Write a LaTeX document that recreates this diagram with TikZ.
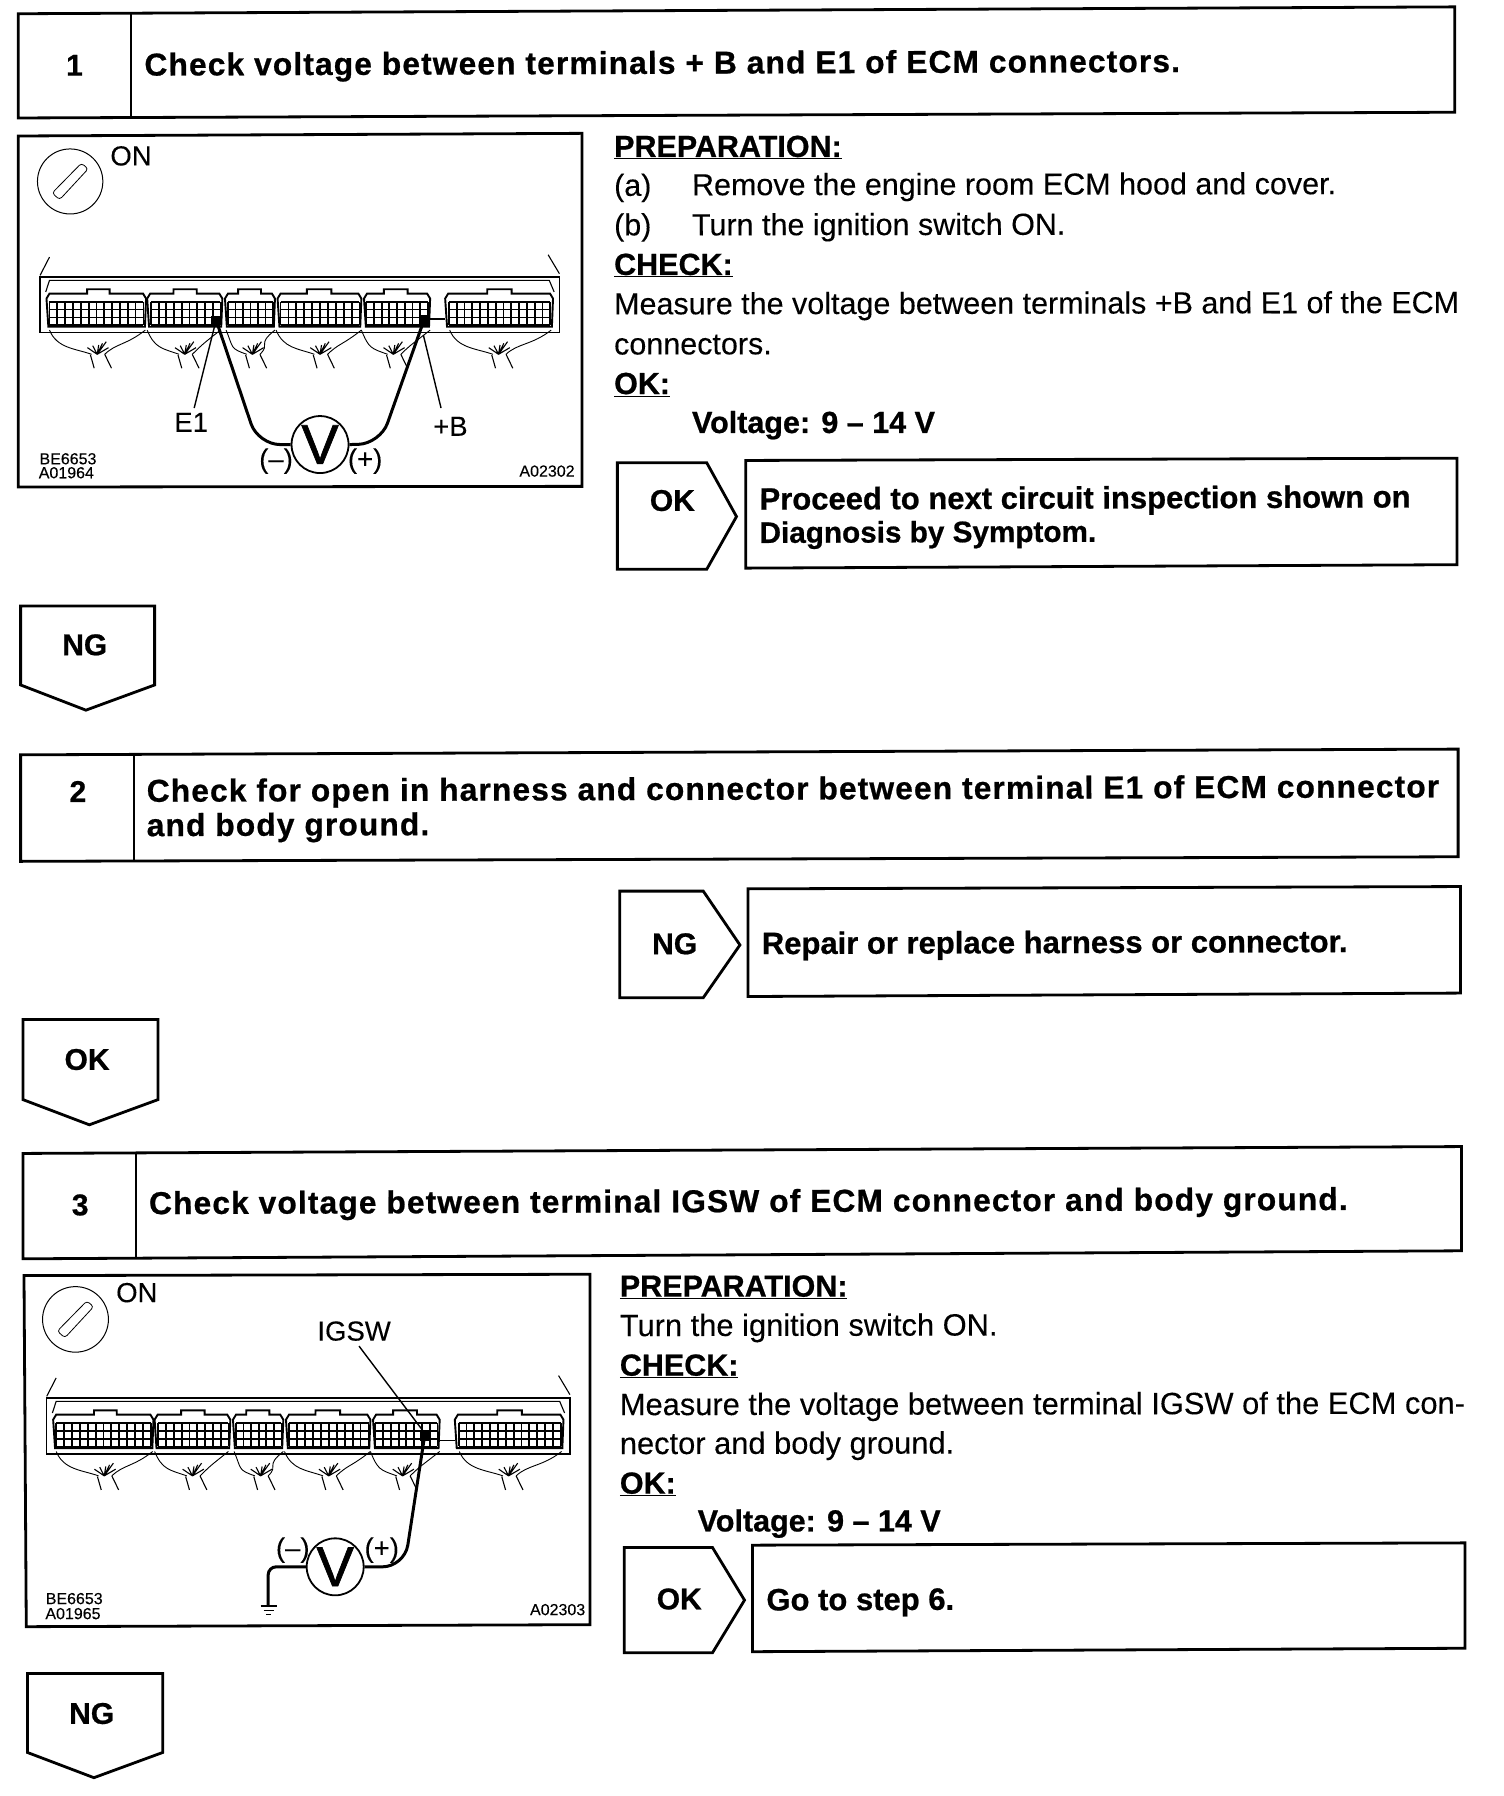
\documentclass[tikz,border=0pt]{standalone}
\usepackage{fontspec}
\setmainfont[FakeBold=0.15,BoldFeatures={FakeBold=0.7}]{Liberation Sans}
\newcommand{\fs}[1]{\fontsize{#1}{#1}\selectfont}
\tikzset{
  x=1.1455pt,y=-1.1455pt,
  frame/.style={line width=2.8pt,line join=miter},
  titl/.style={anchor=base west,inner sep=0,font=\fs{31.7}\bfseries\addfontfeature{LetterSpace=3.6},rotate=.2},
  resl/.style={anchor=base west,inner sep=0,font=\fs{31}\bfseries,rotate=.2},
  num/.style={inner sep=0,font=\fs{30}\bfseries},
  body/.style={anchor=base west,inner sep=0,font=\fs{30.5},rotate=.1},
  bodyb/.style={anchor=base west,inner sep=0,font=\fs{30.85},rotate=.1},
  head/.style={anchor=base west,inner sep=0,font=\fs{30.5}\bfseries},
  plab/.style={inner sep=0,font=\fs{27.5}},
  code/.style={inner sep=0,font=\fs{16}},
  wire/.style={line width=.9pt},
  gridl/.style={line width=1.8pt},
  probe/.style={line width=3pt,rounded corners=22pt},
  leader/.style={line width=1.4pt},
  meter/.style={draw,circle,line width=1.8pt,minimum size=57pt,inner sep=0,font=\fs{56}\addfontfeature{FakeBold=1.2}},
}
% connector block
\newcommand{\conn}[7]{%
  \draw[line width=1.9pt,fill=white] (#1+5,605)--(#1,520)--(#1+8,505)--(#6,505)--(#6,492)--(#7,492)--(#7,505)--(#2-8,505)--(#2,520)--(#2-3,605)--cycle;
  \foreach \r in {530,553,577,600}{\draw[gridl] (#3,\r)--(#4,\r);}
  \foreach \i in {0,...,#5}{\pgfmathsetmacro\xx{#3+\i*(#4-#3)/#5}\draw[gridl] (\xx,530)--(\xx,600);}
}
\newcommand{\hrn}[3]{%
  \draw[wire] (#1,615) .. controls (#1+20,670) and (#3-60,670) .. (#3-15,688);
  \draw[wire] (#2,615) .. controls (#2-50,660) and (#3+50,655) .. (#3+20,688);
  \draw[wire,line width=1.1pt] (#3-18,690)--(#3-8,730) (#3+20,688)--(#3+38,730)
    (#3,688)--(#3+24,650) (#3,688)--(#3+14,655) (#3,688)--(#3+4,660) (#3,688)--(#3-26,668) (#3,688)--(#3-12,662) (#3,688)--(#3+30,668);
}
\newcommand{\ecmstrip}{%
  \draw[line width=1.1pt] (80,450)--(105,395) (1462,445)--(1432,388);
  \draw[line width=1.5pt] (80,455) rectangle (1462,622);
  \draw[line width=1.1pt] (95,500)--(105,465)--(1435,465)--(1448,500);
  \hrn{105}{360}{232}\hrn{365}{560}{465}\hrn{575}{705}{645}\hrn{708}{935}{825}\hrn{935}{1118}{1020}\hrn{1170}{1440}{1300}
  \conn{97}{362}{105}{355}{12}{205}{265}
  \conn{365}{565}{375}{560}{9}{435}{497}
  \conn{572}{705}{580}{700}{6}{607}{668}
  \conn{712}{935}{720}{930}{10}{790}{855}
  \conn{942}{1118}{948}{1112}{8}{995}{1058}
  \conn{1158}{1445}{1168}{1438}{13}{1270}{1335}
  \draw[line width=1.5pt] (1118,582)--(1158,582);
}
\newcommand{\keysw}[2]{%
  \draw[line width=1pt] (#1,#2) ellipse [x radius=87,y radius=98];
  \draw[line width=.8pt,rounded corners=3pt] (#1-48,#2+35)--(#1+30,#2-55)--(#1+48,#2-38)--(#1-28,#2+55)--cycle;
}
\begin{document}
\begin{tikzpicture}
\useasboundingbox (0,0) rectangle (1313,1568);
\fill[white] (0,0) rectangle (1313,1568);

% ---------- step 1
\draw[frame] (16,12)--(1270,6)--(1270,98)--(16,103)--cycle;
\draw[line width=2pt] (114,11)--(114,103);
\node[num] (n1) at (65,57) {1};
\node[titl] (t1) at (126,66) {Check voltage between terminals + B and E1 of ECM connectors.};

\begin{scope}[x=.3758pt,y=-.3318pt,shift={(10.03pt,-126.05pt)}]
  \draw[frame] (22,30)--(1522,22)--(1522,1086)--(22,1088)--cycle;
  \keysw{160}{167}
  \node[plab] (on1) at (322,90) {ON};
  \ecmstrip
  \fill (535,572) rectangle (565,600);
  \fill (1088,570) rectangle (1118,598);
  \node[meter] (v1) at (825,960) {V};
  \draw[leader] (545,600)--(490,850);
  \draw[leader] (1100,630)--(1147,850);
  \draw[probe] (550,590)--(660,960)--(v1.west);
  \draw[probe] (1100,590)--(985,958)--(v1.east);
  \node[plab] (e1) at (482,893) {E1};
  \node[plab] (pb) at (1172,905) {+B};
  \node[plab] (m1) at (708,1010) {(–)};
  \node[plab] (p1) at (945,1010) {(+)};
  \node[code,anchor=west] (c1a) at (78,1003) {BE6653};
  \node[code,anchor=west] (c1b) at (76,1045) {A01964};
  \node[code,anchor=east] (c1c) at (1503,1040) {A02302};
\end{scope}

\node[head] (h1) at (536,137) {\underline{PREPARATION:}};
\node[body] (a1) at (536,171) {(a)};
\node[body] (a2) at (604,170.5) {Remove the engine room ECM hood and cover.};
\node[body] (b1) at (536,205.5) {(b)};
\node[body] (b2) at (604,205.5) {Turn the ignition switch ON.};
\node[head] (h2) at (536,240) {\underline{CHECK:}};
\node[body] (m1a) at (536,274.5) {Measure the voltage between terminals +B and E1 of the ECM};
\node[body] (m1b) at (536,309.5) {connectors.};
\node[head] (h3) at (536,344) {\underline{OK:}};
\node[head] (v1t) at (604,378) {Voltage: 9 – 14 V};

\draw[frame] (539,404)--(617,404)--(643,451)--(617,497)--(539,497)--cycle;
\node[num] (ok1) at (587,437) {OK};
\draw[frame] (651,402)--(1272,400)--(1272,493)--(651,496)--cycle;
\node[resl] (r1a) at (663,445) {Proceed to next circuit inspection shown on};
\node[resl,font=\fs{29.7}\bfseries] (r1b) at (663,474) {Diagnosis by Symptom.};

\draw[frame] (18,529)--(135,529)--(135,598)--(75,620)--(18,598)--cycle;
\node[num] (ng1) at (74,563) {NG};

% ---------- step 2
\draw[frame] (18,659)--(1273,654)--(1273,748)--(18,752)--cycle;
\draw[line width=2pt] (117,659)--(117,752);
\node[num] (n2) at (68,691) {2};
\node[titl] (t2a) at (128,700) {Check for open in harness and connector between terminal E1 of ECM connector};
\node[titl] (t2b) at (128,730) {and body ground.};

\draw[frame] (541,778)--(614,778)--(646,825)--(614,871)--(541,871)--cycle;
\node[num] (ng2) at (589,824) {NG};
\draw[frame] (653,776)--(1275,774)--(1275,867)--(653,870)--cycle;
\node[resl] (r2) at (665,833) {Repair or replace harness or connector.};

\draw[frame] (20,890)--(138,890)--(138,960)--(78,982)--(20,960)--cycle;
\node[num] (ok2) at (76,925) {OK};

% ---------- step 3
\draw[frame] (20,1007)--(1276,1001)--(1276,1092)--(20,1099)--cycle;
\draw[line width=2pt] (119,1006)--(119,1099);
\node[num] (n3) at (70,1052) {3};
\node[titl] (t3) at (130,1060) {Check voltage between terminal IGSW of ECM connector and body ground.};

\begin{scope}[x=.3786pt,y=-.3344pt,shift={(8.86pt,-1264.3pt)}]
  \draw[frame] (40,34)--(1535,30)--(1535,1078)--(46,1084)--cycle;
  \keysw{176}{165}
  \node[plab] (on2) at (338,85) {ON};
  \begin{scope}[shift={(20,-55)}]
    \ecmstrip
  \end{scope}
  \fill (1085,495) rectangle (1112,530);
  \node[meter] (v2) at (862,905) {V};
  \node[plab] (ig) at (912,200) {IGSW};
  \coordinate (g2) at (685,1022);
  \draw[leader] (925,245)--(1095,500);
  \draw[probe] (1100,500)--(1045,905)--(v2.east);
  \draw[probe,rounded corners=8pt] (v2.west)--(685,905)--(g2);
  \draw[line width=1.4pt] (665,1022)--(708,1022) (673,1035)--(700,1035) (680,1047)--(692,1047);
  \node[plab] (m2) at (750,855) {(–)};
  \node[plab] (p2) at (985,855) {(+)};
  \node[code,anchor=west] (c2a) at (97,1000) {BE6653};
  \node[code,anchor=west] (c2b) at (96,1045) {A01965};
  \node[code,anchor=east] (c2c) at (1523,1033) {A02303};
\end{scope}

\node[head] (h4) at (541,1132) {\underline{PREPARATION:}};
\node[bodyb] (s1) at (541,1166.5) {Turn the ignition switch ON.};
\node[head] (h5) at (541,1201) {\underline{CHECK:}};
\node[bodyb] (s2) at (541,1235.5) {Measure the voltage between terminal IGSW of the ECM con-};
\node[bodyb] (s3) at (541,1269.5) {nector and body ground.};
\node[head] (h6) at (541,1304) {\underline{OK:}};
\node[head] (v3t) at (609,1337) {Voltage: 9 – 14 V};

\draw[frame] (545,1351)--(622,1351)--(650,1397)--(622,1443)--(545,1443)--cycle;
\node[num] (ok3) at (593,1396) {OK};
\draw[frame] (657,1349)--(1279,1347)--(1279,1439)--(657,1442)--cycle;
\node[resl] (r3) at (669,1406) {Go to step 6.};

\draw[frame] (24,1461)--(142,1461)--(142,1530)--(82,1552)--(24,1530)--cycle;
\node[num] (ng3) at (80,1496) {NG};
\end{tikzpicture}
\end{document}
